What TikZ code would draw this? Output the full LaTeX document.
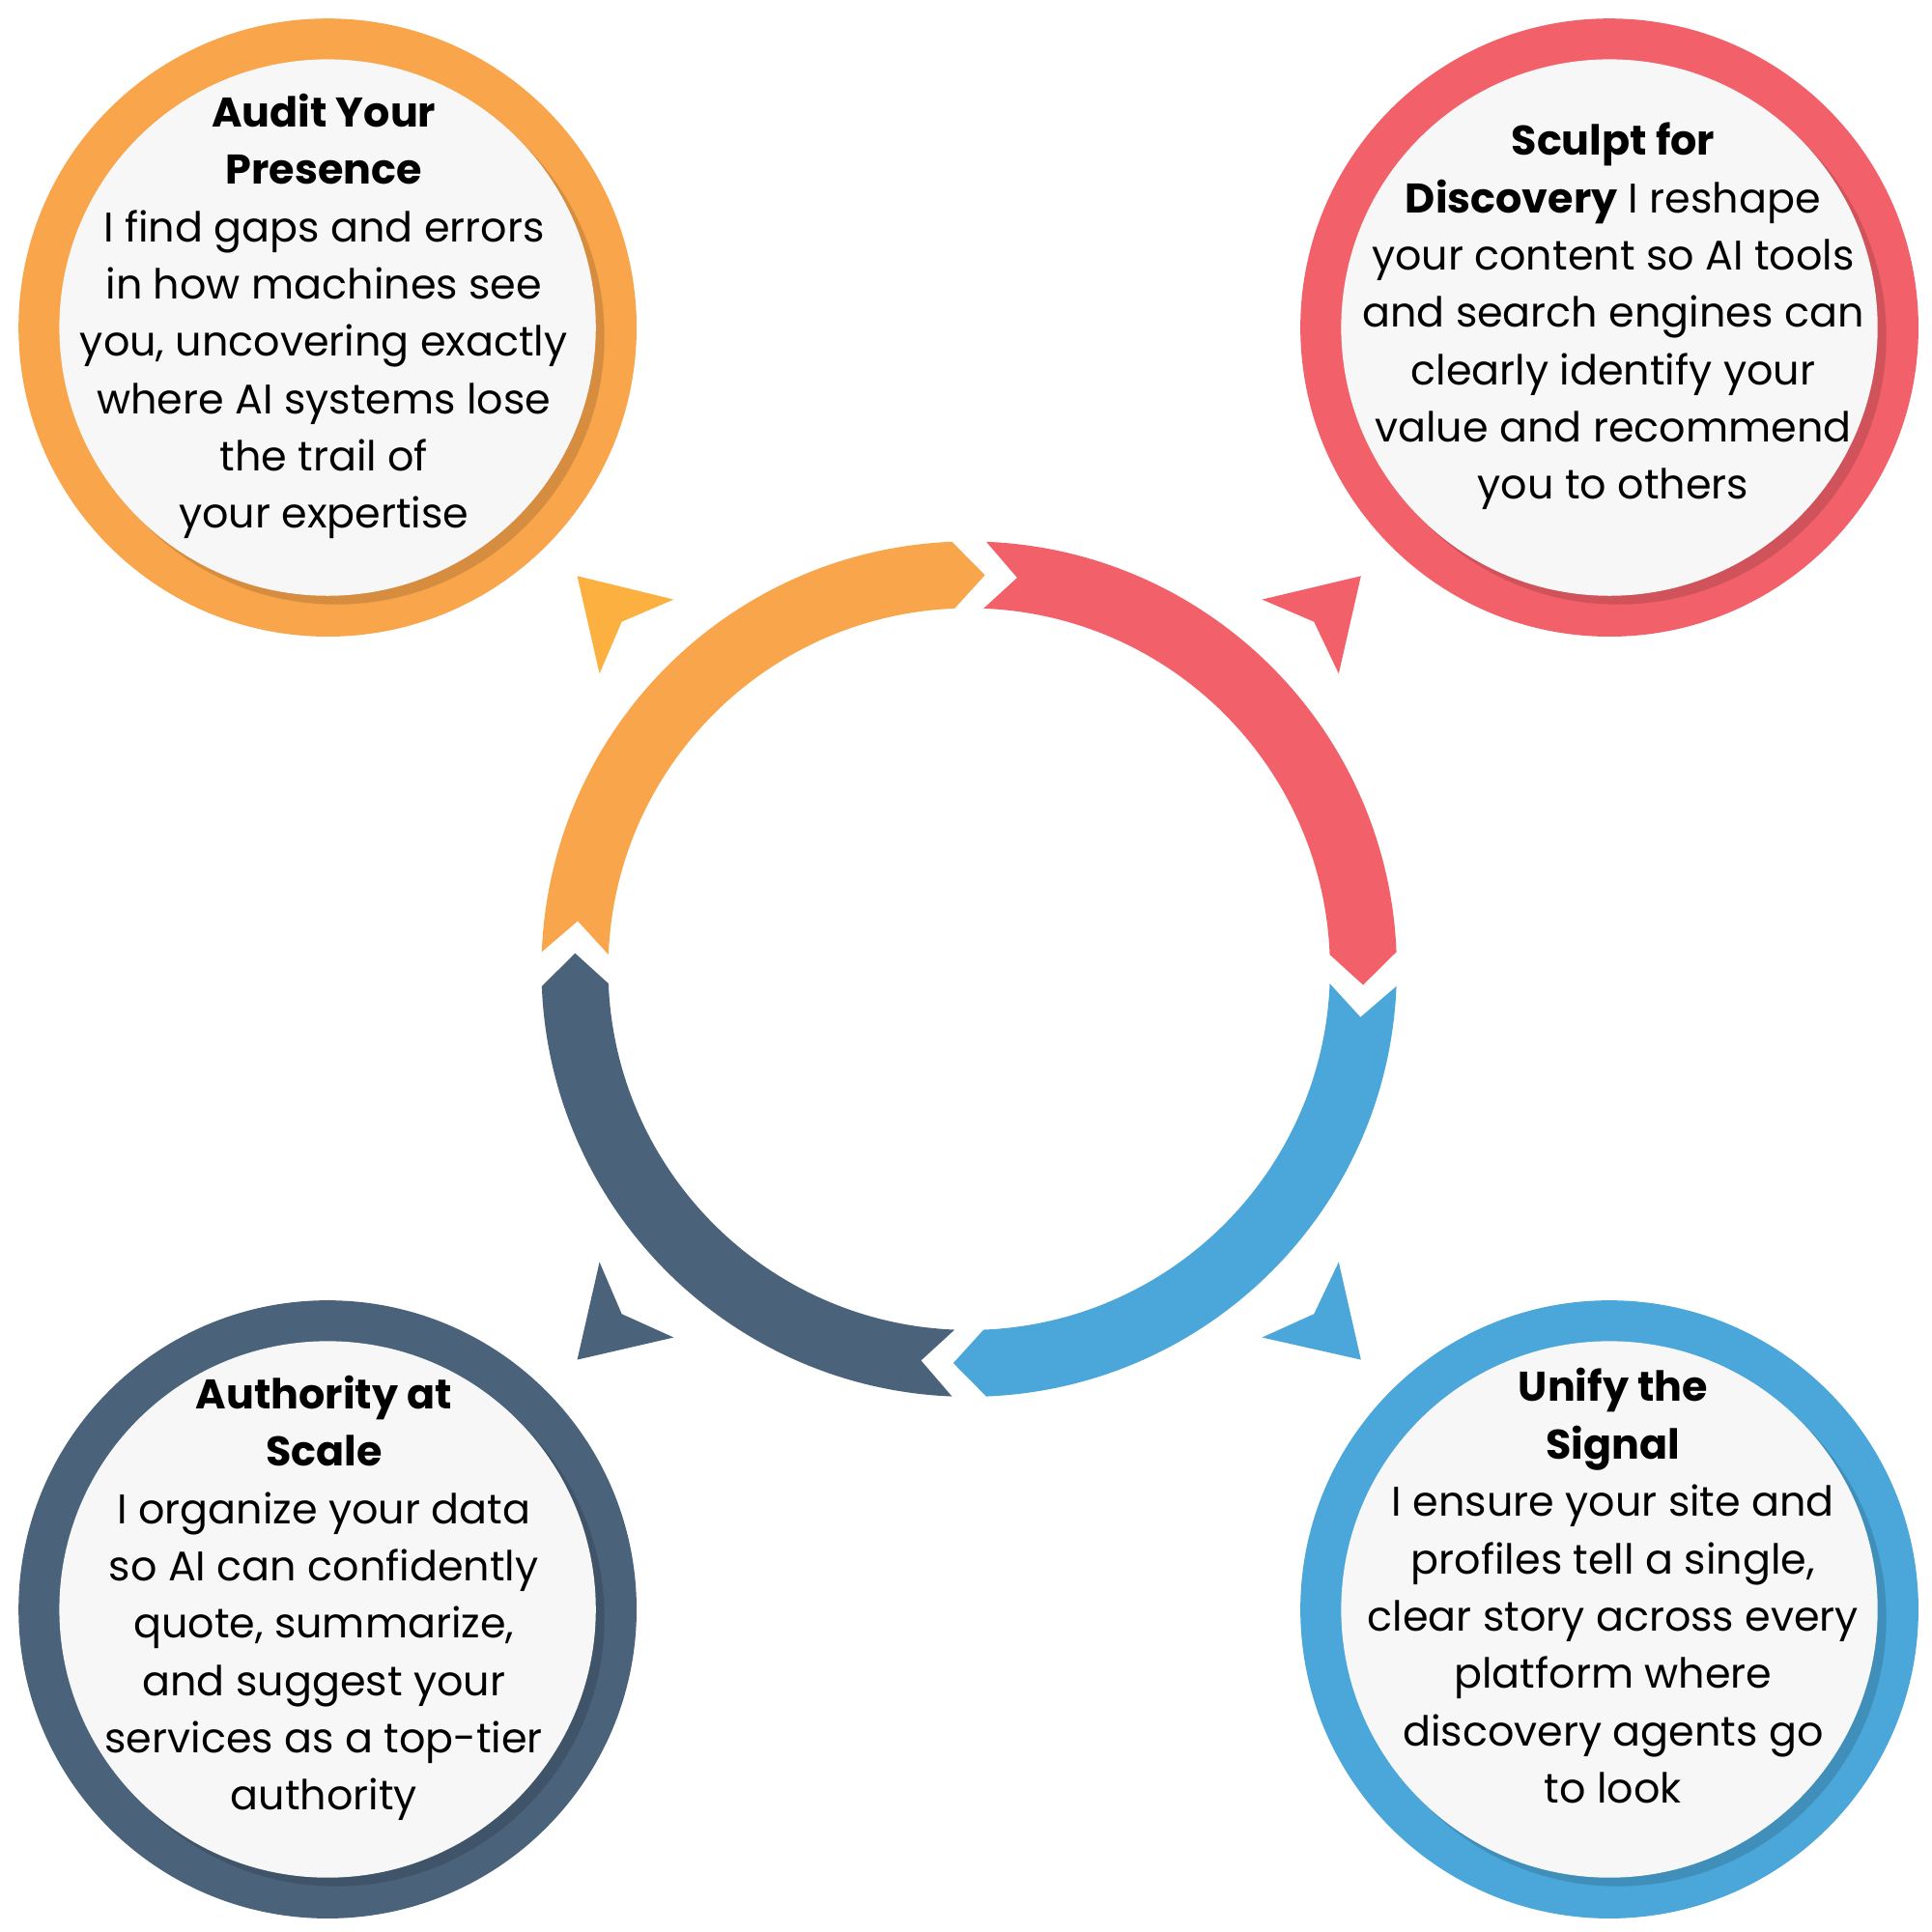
\documentclass[tikz,border=0pt]{standalone}
\usepackage{fontspec}
\setmainfont{Poppins}
\usetikzlibrary{calc}
\begin{document}
\begin{tikzpicture}[x=0.0128cm,y=-0.0128cm]
\definecolor{cor}{HTML}{F9A54B}
\definecolor{cre}{HTML}{F26069}
\definecolor{cbl}{HTML}{4BA6D9}
\definecolor{cdk}{HTML}{4A627A}
\definecolor{ctri}{HTML}{FBB040}
\tikzset{txt/.style={align=center,font=\fontsize{12.2}{16.9}\selectfont,text=black}}
\useasboundingbox (0,0) rectangle (1563,1563);
\newcommand{\seg}[2]{%
 \fill[#2] ($(784,784)+(#1-2.3:346 and -346)$)
   arc[start angle=#1-2.3,end angle=#1-87.7,x radius=346,y radius=-346]
   -- ($(784,784)+(#1-92.3:319 and -319)$)
   -- ($(784,784)+(#1-87.7:292 and -292)$)
   arc[start angle=#1-87.7,end angle=#1-2.3,x radius=292,y radius=-292]
   -- ($(784,784)+(#1-7:319 and -319)$) -- cycle;}
\seg{180}{cor}
\seg{90}{cre}
\seg{0}{cbl}
\seg{-90}{cdk}
\fill[ctri] (467,466) -- (545,485) -- (503,503) -- (485,545) -- cycle;
\fill[cre] (1101,466) -- (1021,485) -- (1063,503) -- (1083,545) -- cycle;
\fill[cdk] (467,1100) -- (545,1082) -- (503,1063) -- (485,1021) -- cycle;
\fill[cbl] (1101,1100) -- (1021,1082) -- (1063,1063) -- (1083,1021) -- cycle;
\newcommand{\badge}[3]{%
 \fill[#3] (#1,#2) circle[radius=250];
 \fill[#3!60!black,opacity=0.35] (#1+7,#2+7) circle[radius=217];
 \fill[black!3] (#1,#2) circle[radius=217];}
\badge{265}{265}{cor}
\badge{1302}{265}{cre}
\badge{265}{1302}{cdk}
\badge{1302}{1302}{cbl}
\node[txt] (t1) at (262,256) {\textbf{Audit Your}\\\textbf{Presence}\\I find gaps and errors\\in how machines see\\you, uncovering exactly\\where AI systems lose\\the trail of\\your expertise};
\node[txt] (t2) at (1305,256) {\textbf{Sculpt for}\\\textbf{Discovery} I reshape\\your content so AI tools\\and search engines can\\clearly identify your\\value and recommend\\you to others};
\node[txt] (t3) at (262,1293) {\textbf{Authority at}\\\textbf{Scale}\\I organize your data\\so AI can confidently\\quote, summarize,\\and suggest your\\services as a top-tier\\authority};
\node[txt] (t4) at (1305,1283) {\textbf{Unify the}\\\textbf{Signal}\\I ensure your site and\\profiles tell a single,\\clear story across every\\platform where\\discovery agents go\\to look};
\end{tikzpicture}
\end{document}
